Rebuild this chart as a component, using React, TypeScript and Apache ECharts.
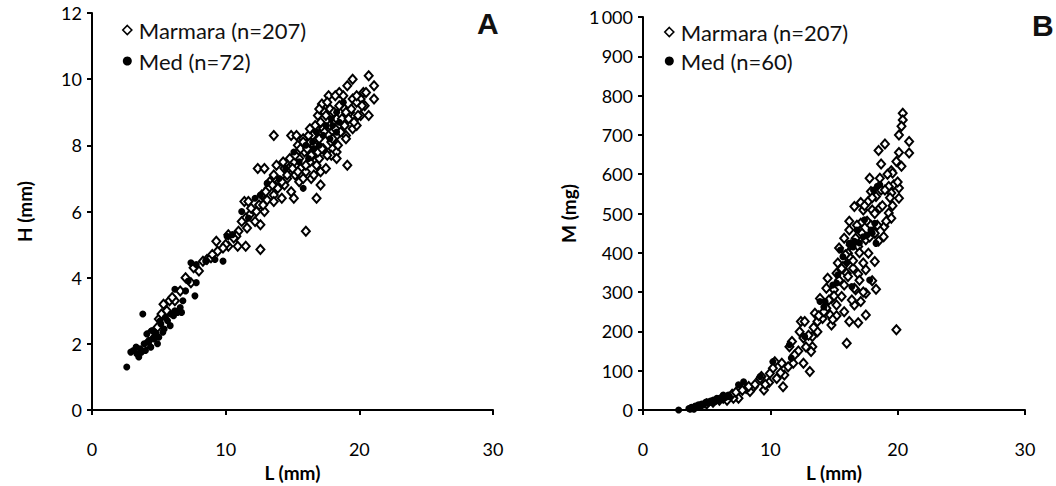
import React, { useEffect, useRef } from "react";
import * as echarts from "echarts";

const FONT = "Lato, 'Open Sans', sans-serif";

const xTicks = [0, 10, 20, 30];
const hTicksMax = 12;
const mTicksMax = 1000;

// Panel A: L (mm) vs H (mm)
const marmaraA: number[][] = [
  [20.7, 10.1], [19.5, 10.0], [19.1, 9.8], [21.1, 9.8], [18.5, 9.6], [20.3, 9.6], [17.7, 9.5], [18.2, 9.5],
  [17.2, 9.25], [19.5, 9.4], [20.1, 9.4], [21.1, 9.4], [19.8, 9.3], [20.4, 9.2], [17.8, 9.1], [18.9, 9.1],
  [19.3, 9.0], [20.1, 8.9], [20.7, 8.9], [16.9, 8.9], [17.4, 9.0], [18.3, 8.8], [19.5, 8.5], [19.8, 8.6],
  [16.8, 8.5], [17.3, 8.5], [19.0, 8.3], [13.6, 8.3], [14.9, 8.3], [15.3, 8.3], [15.8, 8.2], [16.5, 8.3],
  [18.3, 8.3], [17.9, 8.1], [16.3, 8.1], [16.8, 8.0], [15.4, 8.0], [17.3, 7.9], [18.0, 7.9], [15.9, 7.8],
  [18.3, 7.8], [17.9, 7.7], [16.5, 7.7], [17.0, 7.6], [15.5, 7.6], [19.1, 7.4], [16.3, 7.5], [15.1, 7.5],
  [16.8, 7.4], [14.7, 7.3], [15.6, 7.3], [12.4, 7.3], [12.9, 7.3], [14.4, 7.3], [16.0, 7.2], [17.1, 7.2],
  [15.2, 7.1], [13.6, 7.1], [14.6, 7.0], [16.4, 7.0], [14.0, 6.9], [13.3, 6.9], [15.5, 6.9], [14.4, 6.8],
  [17.1, 6.8], [13.2, 6.7], [14.9, 6.6], [12.7, 6.5], [13.6, 6.5], [14.2, 6.4], [15.1, 6.4], [16.8, 6.4],
  [13.1, 6.35], [11.4, 6.3], [11.7, 6.3], [12.5, 6.2], [13.6, 6.3], [12.9, 6.0], [11.8, 5.9], [11.5, 5.8],
  [12.2, 5.7], [12.6, 5.6], [16.0, 5.4], [11.6, 5.5], [10.96, 5.4], [10.2, 5.3], [10.8, 5.25], [9.3, 5.1],
  [10.2, 4.95], [10.9, 4.95], [11.5, 4.95], [12.6, 4.85], [9.4, 4.8], [8.6, 4.55], [8.0, 4.2], [7.4, 3.85],
  [5.8, 3.3], [5.35, 3.2], [6.2, 3.3], [5.0, 2.75], [4.65, 2.25], [4.1, 2.0],
  [15.6, 7.9], [15.8, 8.1], [16.1, 7.9], [16.2, 8.3], [16.4, 7.7], [16.6, 8.0], [16.7, 8.6], [16.9, 7.8],
  [17.0, 8.2], [17.1, 8.7], [17.2, 7.9], [17.4, 8.4], [17.5, 8.9], [17.6, 7.7], [17.7, 8.3], [17.8, 8.6],
  [18.0, 8.2], [18.1, 9.0], [18.2, 8.5], [18.4, 8.0], [18.5, 9.2], [18.6, 8.4], [18.7, 8.8], [18.9, 8.6],
  [19.0, 9.0], [19.2, 8.8], [19.4, 9.1], [19.6, 8.7], [16.0, 7.4], [15.4, 7.2], [15.0, 7.3], [14.8, 7.6],
  [15.2, 7.7], [14.6, 7.1], [14.2, 6.9], [13.9, 6.7], [13.5, 6.8], [13.0, 6.6], [12.8, 6.2], [12.3, 6.0],
  [11.9, 6.1], [11.2, 5.7], [10.6, 5.2], [10.0, 5.0], [9.8, 4.9], [16.3, 8.5], [17.0, 9.1], [17.6, 9.3],
  [18.8, 9.5], [19.8, 9.5], [20.2, 9.2], [20.5, 9.6], [19.0, 8.2], [18.3, 7.6], [17.5, 7.3], [16.6, 7.1],
  [15.8, 7.0], [14.3, 7.5], [13.8, 7.4], [19.9, 8.9],
  [4.3, 2.3], [4.9, 2.5], [5.2, 2.9], [5.6, 3.0], [6.0, 3.4], [6.6, 3.6], [7.0, 4.0], [7.6, 4.3],
  [8.3, 4.5], [8.9, 4.6], [9.0, 4.7],
];

const medA: number[][] = [
  [2.6, 1.3], [2.9, 1.75], [3.1, 1.8], [3.5, 1.6], [3.6, 1.85], [3.8, 2.9], [3.9, 2.0], [4.1, 2.3],
  [4.3, 2.1], [4.5, 2.4], [4.8, 2.3], [4.9, 2.0], [5.15, 2.6], [5.4, 2.45], [5.5, 2.8], [5.65, 2.7],
  [5.9, 2.9], [6.2, 3.0], [6.4, 2.95], [6.7, 2.95], [6.2, 3.65], [7.2, 3.9], [7.7, 3.45], [7.8, 3.85],
  [7.4, 4.45], [7.8, 4.4], [9.2, 4.55], [9.8, 4.5], [10.1, 5.25], [11.2, 6.0], [11.7, 5.8], [12.6, 6.5],
  [13.1, 6.85], [14.5, 7.3], [15.1, 7.8], [15.8, 6.7], [16.0, 8.0], [16.5, 8.1], [16.8, 8.4], [17.5, 8.6],
  [17.9, 8.8], [18.3, 9.0], [18.8, 9.3], [18.5, 8.7], [17.3, 8.3], [18.3, 8.4],
  [3.35, 1.7], [4.0, 1.8], [4.4, 1.9], [4.65, 2.15], [5.0, 2.2], [4.7, 2.35], [5.85, 2.55], [6.1, 2.85],
  [6.6, 3.1], [5.3, 2.35], [3.7, 1.75], [4.2, 2.05], [6.8, 3.3], [3.3, 1.9], [5.1, 2.7], [16.2, 7.6],
  [17.0, 8.0], [17.8, 8.2], [16.6, 7.9], [18.0, 8.6], [15.5, 7.5], [14.0, 7.0], [12.2, 6.4], [10.5, 5.3],
  [8.5, 4.5], [7.0, 3.6],
];

// Panel B: L (mm) vs M (mg)
const marmaraB: number[][] = [
  [20.4, 755], [20.4, 738], [20.3, 722], [20.1, 700], [20.9, 683], [19.0, 677], [18.5, 660], [20.9, 654],
  [20.1, 655], [18.7, 626], [19.9, 632], [19.5, 609], [19.6, 603], [17.8, 590], [19.7, 573], [20.1, 565],
  [19.3, 569], [17.9, 556], [18.3, 543], [20.1, 539], [17.7, 531], [18.7, 560], [19.5, 552], [16.6, 518],
  [17.1, 528], [17.3, 509], [18.0, 509], [18.6, 514], [19.3, 501], [19.5, 488], [16.2, 480], [17.1, 475],
  [18.95, 467], [18.9, 441], [16.2, 458], [15.8, 437], [16.7, 437], [17.5, 433], [18.2, 450], [15.4, 412],
  [16.1, 399], [16.9, 416], [17.7, 399], [16.3, 386], [17.3, 374], [18.2, 378], [15.3, 374], [15.7, 365],
  [16.5, 361], [17.5, 357], [14.5, 335], [15.2, 348], [16.0, 348], [16.9, 346], [18.0, 329], [15.8, 318],
  [14.4, 310], [15.0, 306], [16.7, 306], [18.3, 307], [17.5, 297], [13.9, 284], [14.8, 284], [15.6, 289],
  [17.1, 276], [15.2, 267], [16.6, 267], [14.4, 259], [15.8, 250], [13.5, 246], [14.7, 242], [17.5, 242],
  [14.1, 233], [16.2, 225], [16.9, 222], [14.8, 216], [13.7, 225], [12.4, 225], [12.7, 225], [12.3, 199],
  [13.7, 199], [13.3, 187], [12.6, 183], [11.7, 174], [16.0, 170], [19.9, 204], [11.5, 161], [13.3, 161],
  [13.2, 149], [11.8, 119], [12.6, 119], [10.9, 119], [13.1, 98], [10.35, 123], [10.2, 106], [9.96, 93],
  [11.1, 89], [11.0, 59], [9.5, 51], [9.3, 85], [8.7, 59], [8.4, 47], [7.9, 59], [8.1, 55],
  [7.5, 30], [7.1, 30], [6.6, 25],
  [15.0, 290], [15.4, 330], [15.6, 360], [15.9, 395], [16.1, 340], [16.3, 420], [16.5, 380], [16.8, 470],
  [17.0, 400], [17.2, 450], [17.4, 520], [17.6, 480], [17.8, 440], [18.0, 540], [18.2, 500], [18.4, 470],
  [18.6, 590], [18.8, 520], [19.0, 560], [19.2, 600], [19.4, 540], [14.6, 280], [14.2, 250], [13.8, 240],
  [13.4, 210], [13.0, 190], [12.8, 160], [12.2, 150], [11.9, 140], [11.4, 110], [10.8, 95], [10.5, 80],
  [9.9, 70], [9.6, 65], [16.6, 310], [17.0, 330], [17.3, 300], [15.2, 240], [14.9, 230], [16.4, 280],
  [17.9, 470], [18.5, 430], [19.1, 480], [19.6, 520], [20.0, 580], [20.3, 620],
  [5.0, 15], [5.5, 20], [6.0, 25], [6.3, 30], [7.0, 40], [7.3, 45], [7.8, 50], [8.3, 60], [8.8, 65], [9.2, 80],
];

const medB: number[][] = [
  [2.8, 0], [3.6, 4], [3.8, 7], [4.1, 10], [4.35, 13], [4.6, 15], [4.9, 19], [5.0, 21],
  [5.3, 23], [5.5, 25], [5.8, 30], [6.05, 30], [6.3, 38], [6.6, 34], [6.8, 34], [7.5, 64],
  [7.9, 72], [9.2, 85], [10.2, 123], [11.5, 166], [11.65, 132], [12.7, 187], [13.9, 276], [14.3, 276],
  [15.2, 323], [15.3, 344], [15.5, 407], [15.7, 390], [16.2, 424], [16.6, 429], [16.8, 458], [17.3, 441],
  [17.4, 484], [17.9, 458], [18.0, 450], [18.2, 475], [18.3, 424], [18.6, 573], [18.4, 569], [16.4, 314],
  [16.0, 374], [14.9, 318], [17.8, 331],
  [3.7, 2], [4.2, 7], [4.5, 8], [4.75, 13], [5.1, 17], [5.4, 19], [5.65, 21], [5.9, 25], [6.2, 27],
  [6.45, 32], [6.7, 38], [4.0, 2], [17.6, 445], [16.5, 415], [18.1, 560], [17.0, 425], [14.2, 262],
];

const axisLine = { show: true, lineStyle: { color: "#000", width: 2 } };
const axisTick = { show: true, inside: false, length: 5, lineStyle: { color: "#000", width: 2 } };
const tickLabel = { color: "#000", fontSize: 18, fontFamily: FONT };
const nameStyle = { color: "#000", fontSize: 19, fontWeight: "bold" as const, fontFamily: FONT };

const diamondStyle = { color: "#fff", borderColor: "#000", borderWidth: 2, opacity: 1 };
const dotStyle = { color: "#000", opacity: 1 };

export default function App() {
  const ref = useRef<HTMLDivElement>(null);
  useEffect(() => {
    if (!ref.current) return;
    const chart = echarts.init(ref.current, undefined, { renderer: "svg" });
    const legendText = { fontSize: 22, fontFamily: FONT, color: "#111", padding: [0, 0, 0, 2] };
    chart.setOption({
      animation: false,
      backgroundColor: "#fff",
      title: [
        { text: "A", left: 477, top: 8, padding: 0, textStyle: { fontSize: 30, fontWeight: "bold", fontFamily: "Arial, 'Liberation Sans'", color: "#111" } },
        { text: "B", left: 1032, top: 10, padding: 0, textStyle: { fontSize: 30, fontWeight: "bold", fontFamily: "Arial, 'Liberation Sans'", color: "#111" } },
      ],
      legend: [
        {
          left: 122, top: 19, orient: "vertical", itemGap: 9, itemWidth: 9, itemHeight: 9, padding: 0,
          data: [
            { name: "Marmara (n=207)", icon: "diamond", itemStyle: { color: "#fff", borderColor: "#000", borderWidth: 1.6 } },
            { name: "Med (n=72)", icon: "circle", itemStyle: { color: "#000" } },
          ],
          textStyle: legendText,
        },
        {
          left: 664, top: 21, orient: "vertical", itemGap: 7, itemWidth: 9, itemHeight: 9, padding: 0,
          data: [
            { name: "Marmara (n=207)", icon: "diamond", itemStyle: { color: "#fff", borderColor: "#000", borderWidth: 1.6 } },
            { name: "Med (n=60)", icon: "circle", itemStyle: { color: "#000" } },
          ],
          textStyle: legendText,
        },
      ],
      grid: [
        { left: 92, top: 13, width: 401, height: 397, outerBoundsMode: "none", containLabel: false },
        { left: 643, top: 17, width: 382, height: 393, outerBoundsMode: "none", containLabel: false },
      ],
      xAxis: [0, 1].map((i) => ({
        gridIndex: i, type: "value", min: xTicks[0], max: xTicks[xTicks.length - 1], interval: 10,
        name: "L (mm)", nameLocation: "middle", nameGap: 51, nameTextStyle: nameStyle,
        axisLine, axisTick, axisLabel: { ...tickLabel, margin: 30 }, splitLine: { show: false },
      })),
      yAxis: [
        {
          gridIndex: 0, type: "value", min: 0, max: hTicksMax, interval: 2,
          name: "H (mm)", nameLocation: "middle", nameGap: 58, nameTextStyle: nameStyle,
          axisLine, axisTick, axisLabel: { ...tickLabel, margin: 10 }, splitLine: { show: false },
        },
        {
          gridIndex: 1, type: "value", min: 0, max: mTicksMax, interval: 100,
          name: "M (mg)", nameLocation: "middle", nameGap: 65, nameTextStyle: nameStyle,
          axisLine, axisTick,
          axisLabel: { ...tickLabel, margin: 10, formatter: (v: number) => (v >= 1000 ? "1\u2009000" : String(v)) },
          splitLine: { show: false },
        },
      ],
      series: [
        { name: "Marmara (n=207)", type: "scatter", xAxisIndex: 0, yAxisIndex: 0, data: marmaraA, symbol: "diamond", symbolSize: [8, 9], itemStyle: diamondStyle },
        { name: "Med (n=72)", type: "scatter", xAxisIndex: 0, yAxisIndex: 0, data: medA, symbol: "circle", symbolSize: 7, itemStyle: dotStyle },
        { name: "Marmara (n=207)", type: "scatter", xAxisIndex: 1, yAxisIndex: 1, data: marmaraB, symbol: "diamond", symbolSize: [8, 9], itemStyle: diamondStyle },
        { name: "Med (n=60)", type: "scatter", xAxisIndex: 1, yAxisIndex: 1, data: medB, symbol: "circle", symbolSize: 7, itemStyle: dotStyle },
      ],
    });
    return () => chart.dispose();
  }, []);
  return <div ref={ref} style={{ position: "fixed", left: 0, top: 0, width: 1056, height: 486 }} />;
}
